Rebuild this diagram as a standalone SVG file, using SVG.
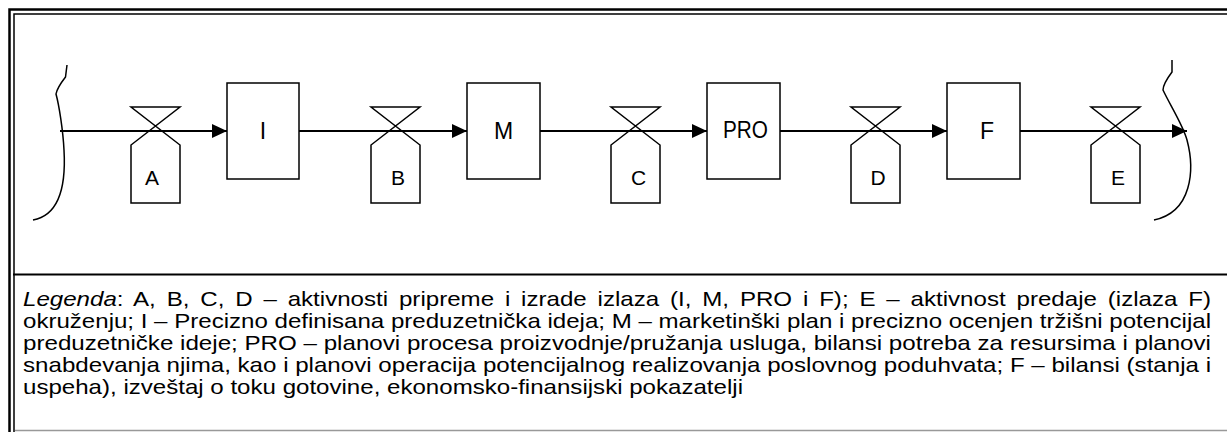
<svg xmlns="http://www.w3.org/2000/svg" width="1227" height="432" viewBox="0 0 1227 432">
<style>
  .box { fill: #fff; stroke: #000; stroke-width: 1.5; }
  .valve { fill: none; stroke: #000; stroke-width: 1.5; stroke-linejoin: miter; }
  .flow { fill: none; stroke: #000; stroke-width: 2; }
  .brace { fill: none; stroke: #000; stroke-width: 1.5; }
  .lbl { font-family: "Liberation Sans", Arial, sans-serif; font-size: 23px; fill: #000; text-anchor: middle; }
  .vlbl { font-family: "Liberation Sans", Arial, sans-serif; font-size: 21px; fill: #000; text-anchor: middle; }
  .leg { font-family: "Liberation Sans", Arial, sans-serif; font-size: 21px; fill: #000; }
</style>
<defs>
  <marker id="arr" markerUnits="userSpaceOnUse" markerWidth="16" markerHeight="14" refX="15" refY="7" orient="auto">
    <path d="M0,0 L15,7 L0,14 Z" fill="#000"/>
  </marker>
</defs>
<rect width="1227" height="432" fill="#fff"/>
<g id="frame" fill="none">
  <path d="M9.5,432 V9.5 H1227" stroke="#000" stroke-width="2.5"/>
  <path d="M14,432 V14 H1227" stroke="#000" stroke-width="1.5"/>
  <path d="M13,274.5 H1227" stroke="#000" stroke-width="2"/>
  <path d="M15,430.5 H1227" stroke="#999" stroke-width="1.5"/>
</g>
<g id="braces">
  <path class="brace" d="M67,65 L65.5,77 Q57,88 56,94 C59,105 63,130 64,150 C66,185 60,215 33,220"/>
  <path class="brace" d="M1172,60 L1172,72 Q1163,84 1163,90 C1170,105 1183,125 1187,140 C1195,170 1192,212 1154,220"/>
</g>
<g id="connectors">
  <line class="flow" x1="60" y1="131" x2="227" y2="131" marker-end="url(#arr)"/>
  <line class="flow" x1="299" y1="131" x2="467" y2="131" marker-end="url(#arr)"/>
  <line class="flow" x1="540" y1="131" x2="707" y2="131" marker-end="url(#arr)"/>
  <line class="flow" x1="780" y1="131" x2="947" y2="131" marker-end="url(#arr)"/>
  <line class="flow" x1="1020" y1="131" x2="1187" y2="131" marker-end="url(#arr)"/>
</g>
<g id="node-A">
  <polygon class="valve" points="131,107 180,107 131,145 131,203 180,203 180,145"/>
  <text class="vlbl" x="152" y="185">A</text>
</g>
<g id="node-I">
  <rect class="box" x="227" y="83" width="72" height="96"/>
  <text class="lbl" x="263" y="139">I</text>
</g>
<g id="node-B">
  <polygon class="valve" points="371,107 420,107 371,145 371,203 420,203 420,145"/>
  <text class="vlbl" x="398" y="185">B</text>
</g>
<g id="node-M">
  <rect class="box" x="467" y="83" width="73" height="96"/>
  <text class="lbl" x="503.5" y="139">M</text>
</g>
<g id="node-C">
  <polygon class="valve" points="611,107 660,107 611,145 611,203 660,203 660,145"/>
  <text class="vlbl" x="638.5" y="185">C</text>
</g>
<g id="node-PRO">
  <rect class="box" x="707" y="83" width="73" height="96"/>
  <text class="lbl" x="745.5" y="138" font-size="21" textLength="45" lengthAdjust="spacingAndGlyphs">PRO</text>
</g>
<g id="node-D">
  <polygon class="valve" points="851,107 900,107 851,145 851,203 900,203 900,145"/>
  <text class="vlbl" x="878" y="185">D</text>
</g>
<g id="node-F">
  <rect class="box" x="947" y="83" width="73" height="96"/>
  <text class="lbl" x="987" y="139">F</text>
</g>
<g id="node-E">
  <polygon class="valve" points="1091,107 1140,107 1091,145 1091,203 1140,203 1140,145"/>
  <text class="vlbl" x="1118" y="185">E</text>
</g>
<g id="legend">
  <text class="leg" x="23" y="306" word-spacing="3.6" textLength="1188" lengthAdjust="spacingAndGlyphs"><tspan font-style="italic">Legenda</tspan>: A, B, C, D – aktivnosti pripreme i izrade izlaza (I, M, PRO i F); E – aktivnost predaje (izlaza F)</text>
  <text class="leg" x="23" y="328" textLength="1188" lengthAdjust="spacingAndGlyphs">okruženju; I – Precizno definisana preduzetnička ideja; M – marketinški plan i precizno ocenjen tržišni potencijal</text>
  <text class="leg" x="23" y="350" textLength="1188" lengthAdjust="spacingAndGlyphs">preduzetničke ideje; PRO – planovi procesa proizvodnje/pružanja usluga, bilansi potreba za resursima i planovi</text>
  <text class="leg" x="23" y="372" textLength="1188" lengthAdjust="spacingAndGlyphs">snabdevanja njima, kao i planovi operacija potencijalnog realizovanja poslovnog poduhvata; F – bilansi (stanja i</text>
  <text class="leg" x="23" y="393.5" textLength="720" lengthAdjust="spacingAndGlyphs">uspeha), izveštaj o toku gotovine, ekonomsko-finansijski pokazatelji</text>
</g>
</svg>
